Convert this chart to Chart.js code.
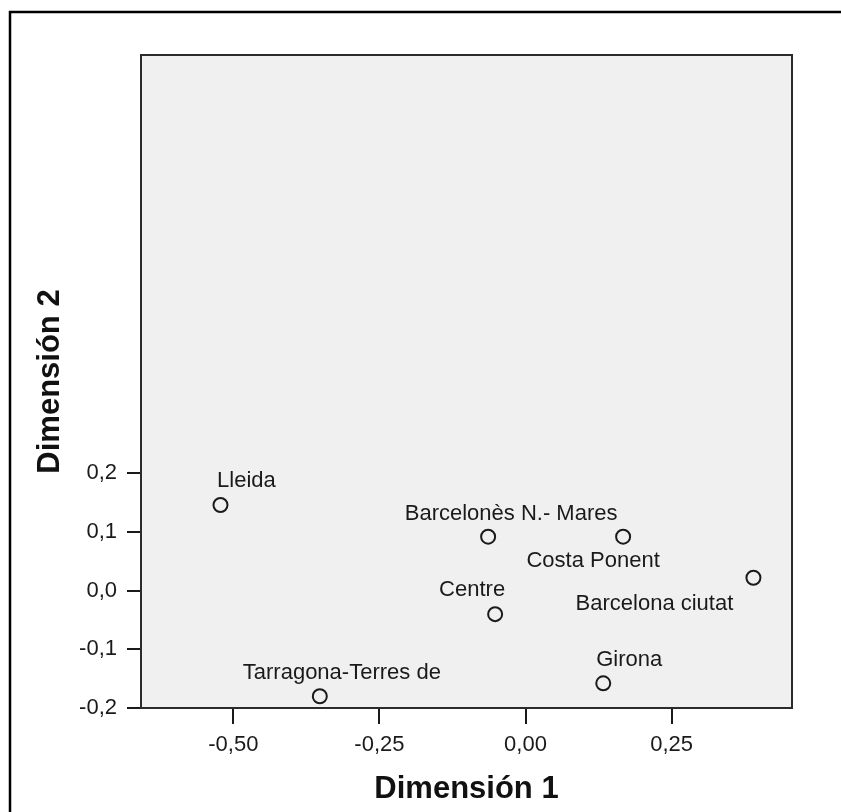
<!DOCTYPE html>
<html>
<head>
<meta charset="utf-8">
<script src="https://cdn.jsdelivr.net/npm/chart.js@4"></script>
<style>
  html, body { margin: 0; padding: 0; background: #ffffff; }
  #wrap { width: 841px; height: 812px; }
</style>
</head>
<body>
<div id="wrap"><canvas id="c" width="841" height="812"></canvas></div>
<script>
// ---- data ----
const regionNames = ['Lleida', 'Barcelonès N.- Mares', 'Costa Ponent', 'Barcelona ciutat', 'Centre', 'Tarragona-Terres de', 'Girona'];
const dimension1 = [-0.522, -0.064, 0.167, 0.390, -0.052, -0.352, 0.133];
const dimension2 = [0.146, 0.092, 0.092, 0.022, -0.040, -0.180, -0.158];
const xTickValues = [-0.50, -0.25, 0.00, 0.25];
const yTickValues = [-0.2, -0.1, 0.0, 0.1, 0.2];
const xTitle = 'Dimensión 1';
const yTitle = 'Dimensión 2';

// ---- label placement (style, pixel offsets of label centre from its point) ----
const labelOffsets = [
  [26, -24], [23, -23], [-30, 24], [-99, 26], [-23, -24], [22, -23], [26, -23]
];

const FONT = '"Liberation Sans", Arial, sans-serif';

const points = dimension1.map((x, i) => ({ x: x, y: dimension2[i] }));

const framePlugin = {
  id: 'frame',
  beforeDraw(chart) {
    const { ctx, chartArea: a } = chart;
    ctx.save();
    ctx.fillStyle = '#ffffff';
    ctx.fillRect(0, 0, chart.width, chart.height);
    // outer frame (left + top visible)
    ctx.strokeStyle = '#000000';
    ctx.lineWidth = 2.5;
    ctx.strokeRect(10, 12, 1000, 1000);
    // plot background
    ctx.fillStyle = '#f0f0f0';
    ctx.fillRect(a.left, a.top, a.right - a.left, a.bottom - a.top);
    ctx.restore();
  },
  afterDraw(chart) {
    const { ctx, chartArea: a } = chart;
    ctx.save();
    ctx.strokeStyle = '#2b2b2b';
    ctx.lineWidth = 2;
    ctx.strokeRect(a.left, a.top, a.right - a.left, a.bottom - a.top);
    ctx.restore();
  }
};

const labelPlugin = {
  id: 'pointLabels',
  afterDatasetsDraw(chart) {
    const { ctx } = chart;
    const meta = chart.getDatasetMeta(0);
    ctx.save();
    ctx.font = '22px ' + FONT;
    ctx.fillStyle = '#1a1a1a';
    ctx.textAlign = 'center';
    ctx.textBaseline = 'middle';
    meta.data.forEach((el, i) => {
      const off = labelOffsets[i];
      ctx.fillText(regionNames[i], el.x + off[0], el.y + off[1]);
    });
    ctx.restore();
  }
};

const fmt = (d) => (v) => v.toFixed(d).replace('.', ',');

new Chart(document.getElementById('c'), {
  type: 'scatter',
  data: {
    datasets: [{
      data: points,
      pointRadius: 7,
      pointHoverRadius: 7,
      pointBorderWidth: 2,
      borderColor: '#1a1a1a',
      backgroundColor: 'rgba(0,0,0,0)',
      pointBackgroundColor: 'rgba(0,0,0,0)'
    }]
  },
  options: {
    responsive: false,
    animation: false,
    devicePixelRatio: 1,
    layout: { padding: { top: 55, right: 49, left: 12, bottom: 0 } },
    plugins: { legend: { display: false }, tooltip: { enabled: false } },
    scales: {
      x: {
        type: 'linear',
        min: -0.658,
        max: 0.456,
        afterBuildTicks: (s) => { s.ticks = xTickValues.map(v => ({ value: v })); },
        afterFit: (s) => { s.height = 104; },
        ticks: { callback: fmt(2), color: '#1a1a1a', font: { family: FONT, size: 22 }, padding: 8, maxRotation: 0, autoSkip: false },
        grid: { drawOnChartArea: false, drawTicks: true, tickLength: 16, color: '#1a1a1a', lineWidth: 2 },
        border: { display: true, color: '#2b2b2b', width: 2 },
        title: { display: true, text: xTitle, color: '#111111', font: { family: FONT, size: 31, weight: 'bold' }, padding: { top: 0, bottom: 4 } }
      },
      y: {
        type: 'linear',
        min: -0.2,
        max: 0.913,
        afterBuildTicks: (s) => { s.ticks = yTickValues.map(v => ({ value: v })); },
        afterFit: (s) => { s.width = 129; },
        ticks: { callback: fmt(1), color: '#1a1a1a', font: { family: FONT, size: 22 }, padding: 10, autoSkip: false },
        grid: { drawOnChartArea: false, drawTicks: true, tickLength: 14, color: '#1a1a1a', lineWidth: 2 },
        border: { display: true, color: '#2b2b2b', width: 2 },
        title: { display: true, text: yTitle, color: '#111111', font: { family: FONT, size: 31, weight: 'bold' }, padding: { top: 20, bottom: 0 } }
      }
    }
  },
  plugins: [framePlugin, labelPlugin]
});
</script>
</body>
</html>
